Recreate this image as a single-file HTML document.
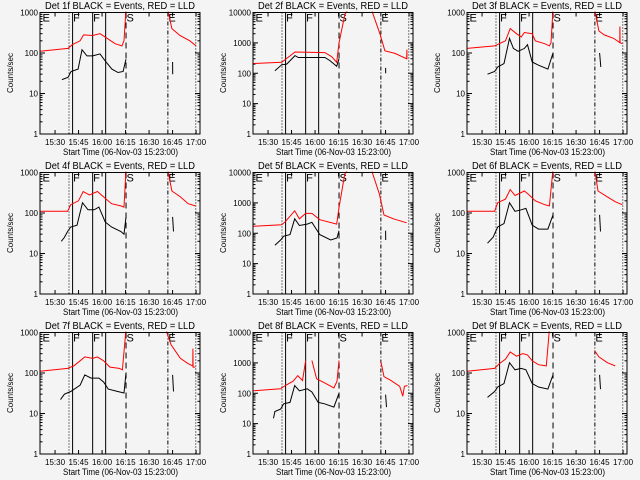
<!DOCTYPE html>
<html><head><meta charset="utf-8"><style>
html,body{margin:0;padding:0;background:#f4f4f4;}
svg{display:block;font-family:"Liberation Sans",sans-serif;}
</style></head><body>
<svg id="chart" width="640" height="480" viewBox="0 0 640 480" xmlns="http://www.w3.org/2000/svg">
<rect x="0" y="0" width="640" height="480" fill="#f4f4f4"/>
</svg>
<script>
// time in minutes after 15:00
const panelNames = ["1f","2f","3f","4f","5f","6f","7f","8f","9f"];
const yDecades = [3,4,3,3,4,3,3,4,3];
const redTimes = [
 [20.4,38.3,41,46,48.2,54,58.7,62.5,68.3,72.7,74,75.3,null,102,104.6,109.7,116,120],
 [20.4,38.7,47.2,66.3,70.6,73.8,75.3,79.1,81,null,96.1,101.4,104.6,111,118.5,118.6,118.7],
 [20.4,38,41,45,48,52,55,57,62,64,70,73,74,75.3,null,102,104.6,108,114,117.9,118,118.1,119.5],
 [20.4,38,40,45,48,52,57,61,66,72,74,75.3,null,102,104.6,110,115,119.5],
 [20.4,38.7,41,47,50,54,58,63,73.8,75.3,79,81,null,96,101,104,110,118.5],
 [20.4,38,40,45,48,51,57,60,64,70,73,75.3,null,102,104,110,115,119.5],
 [20.4,38,42,46,49,54,57,61,65,71,73,75.3,null,101,104,110,115,117.9,118,118.1,119.5],
 [20.4,38,41,46,49,52,54,null,58,61,66,72,74,75.3,null,102,104,108,114,116,117,119],
 [20.4,38,41,45,48,52,56,59,62,66,71,73,75.3,null,102,104.6,110,115,119.5]
];
const redValues = [
 [110,130,160,200,280,270,300,240,170,150,200,1200,null,1100,400,270,200,150],
 [210,230,500,480,350,230,1000,9000,12000,null,12000,2000,550,450,300,600,300],
 [130,150,170,200,400,300,250,320,300,200,170,150,180,1200,null,1100,350,280,230,180,450,180,170],
 [110,110,160,200,340,280,340,250,170,150,140,1200,null,1100,350,250,170,150],
 [170,190,240,550,300,450,450,280,200,700,9000,12000,null,12000,2000,400,300,220],
 [110,110,180,220,380,270,350,280,200,160,150,1200,null,1100,350,250,190,160],
 [110,130,150,200,250,230,250,200,140,130,120,1200,null,1100,500,230,170,150,400,140,140],
 [120,140,180,250,380,260,1200,null,1200,300,220,150,250,1200,null,1100,350,270,170,80,170,180],
 [110,130,170,220,330,260,300,280,200,160,150,1200,null,1100,350,250,180,150]
];
const blackTimes = [
 [34.4,38.3,40.2,44.7,47.2,50.4,54,58.7,62.5,66.3,70.2,73.4,75.3,null,105,105.1],
 [34.4,38.7,41.9,47.2,49.3,66.3,69.5,73.8,75.3,null,105,105.1],
 [33.5,38,40,44,47.5,50,53,57,59,62,66,72,75.3,null,105,105.8],
 [34,36,38,40,44,47.5,51,55,58,62,66,72,74,75.3,null,105,105.6],
 [34.4,38,40,44,47,50,55,58,63,70,74,75.3,null,105,105.1],
 [33.5,37,40,44,47.5,51,55,58,62,66,72,75.3,null,105,105.6],
 [33.5,36,40,46,49,53,58,61,64,70,74,75.3,null,105,105.6],
 [33.5,34.4,38,40,44,47,50,55,58,62,66,72,75.3,null,105,105.6],
 [33.5,38,40,44,47.5,51,55,58,62,66,72,75.3,null,105,105.6]
];
const blackValues = [
 [22,25,35,40,120,85,85,95,60,40,33,35,70,null,60,30],
 [120,190,200,380,330,330,260,170,300,null,150,100],
 [30,35,45,55,230,130,110,130,160,60,50,40,100,null,100,45],
 [20,25,35,45,50,180,120,120,140,60,45,35,30,80,null,80,35],
 [40,60,80,90,300,180,200,230,90,60,70,120,null,120,60],
 [18,25,45,55,180,110,120,130,50,40,40,90,null,90,35],
 [22,30,35,50,90,75,75,60,40,35,32,100,null,90,35],
 [15,25,30,45,50,180,120,140,110,50,45,35,100,null,90,35],
 [25,35,45,55,180,120,130,120,55,45,40,90,null,90,40]
];
const xTickTimes = [30,45,60,75,90,105,120];
const xTickLabels = ["15:30","15:45","16:00","16:15","16:30","16:45","17:00"];
const markerTimes = [38.9,41.2,54,62.3,75.3,102,119.8];
const markerStyles = ["1,2","","","","6,4","4,2,1,2","1,2"];
const markerLetters = ["E","F","F","S","E"];
const letterTimes = [22,41.5,54.3,75.6,102.3];

const svg = document.getElementById('chart');
const NS = "http://www.w3.org/2000/svg";
function mk(tag, attrs, parent){const e=document.createElementNS(NS,tag);for(const k in attrs)e.setAttribute(k,attrs[k]);(parent||svg).appendChild(e);return e;}
const colX=[0,213,427], rowY=[0,160,320];
const BL=40, BR=200, BT=12.5, BB=134, T0=20.4, PXM=1.567;

panelNames.forEach((nm,i)=>{
  const ox=colX[i%3], oy=rowY[Math.floor(i/3)];
  const dec=yDecades[i];
  const xs=t=>ox+BL+(t-T0)*PXM;
  const ys=v=>oy+BB-Math.log10(v)*(BB-BT)/dec;
  const g=mk('g',{});
  
  
  const cp=mk('clipPath',{id:'c'+i},g);
  mk('rect',{x:ox+BL,y:oy+BT-1,width:BR-BL,height:BB-BT+1},cp);
  const ti=mk('text',{x:ox+45,y:oy+9,'font-size':'10','text-anchor':'start',textLength:'150',lengthAdjust:'spacingAndGlyphs',fill:'#000'},g);
  ti.textContent='Det '+nm+' BLACK = Events, RED = LLD';
  
  
  for(let d=0;d<=dec;d++){
    const v=Math.pow(10,d), y=ys(v);
    const tl=mk('text',{x:ox+BL-2,y:y+3,'font-size':'8','text-anchor':'end',fill:'#000'},g);
    tl.textContent=String(v);
    
    
    mk('line',{x1:ox+BL,x2:ox+BL+5,y1:y,y2:y,stroke:'#000','stroke-width':1},g);
    mk('line',{x1:ox+BR,x2:ox+BR-5,y1:y,y2:y,stroke:'#000','stroke-width':1},g);
    if(d<dec){for(let m=2;m<10;m++){const ym=ys(v*m);
      mk('line',{x1:ox+BL,x2:ox+BL+2.5,y1:ym,y2:ym,stroke:'#000','stroke-width':1},g);
      mk('line',{x1:ox+BR,x2:ox+BR-2.5,y1:ym,y2:ym,stroke:'#000','stroke-width':1},g);}}
  }
  const yt=mk('text',{x:0,y:0,'font-size':'8','text-anchor':'middle',fill:'#000',transform:`translate(${ox+13},${oy+73}) rotate(-90)`},g);
  yt.textContent='Counts/sec';
  
  
  xTickTimes.forEach((t,k)=>{
    const x=xs(t);
    mk('line',{x1:x,x2:x,y1:oy+BB,y2:oy+BB-4,stroke:'#000'},g);
    mk('line',{x1:x,x2:x,y1:oy+BT,y2:oy+BT+4,stroke:'#000'},g);
    const xl=mk('text',{x:x,y:oy+145,'font-size':'8','text-anchor':'middle',fill:'#000'},g);
    xl.textContent=xTickLabels[k];
    
    
  });
  const xt=mk('text',{x:ox+63,y:oy+155,'font-size':'9.5','text-anchor':'start',textLength:'115',lengthAdjust:'spacingAndGlyphs',fill:'#000'},g);
  xt.textContent='Start Time (06-Nov-03 15:23:00)';
  
  
  markerTimes.forEach((t,k)=>{
    const x=xs(t);
    const ln=mk('line',{x1:x,x2:x,y1:oy+BT,y2:oy+BB,stroke:'#000','stroke-width':1},g);
    if(markerStyles[k])ln.setAttribute('stroke-dasharray',markerStyles[k]);
    
    
  });
  markerLetters.forEach((L,k)=>{
    const tx=mk('text',{x:xs(letterTimes[k]),y:oy+BT+9,'font-size':'11',fill:'#000'},g);
    tx.textContent=L;
    
    
  });
  function path(ts,vs){let d='',pen=false;ts.forEach((t,k)=>{if(t===null||vs[k]===null){pen=false;return;}d+=(pen?'L':'M')+xs(t).toFixed(1)+','+ys(vs[k]).toFixed(1);pen=true;});return d;}
  const rp=mk('path',{d:path(redTimes[i],redValues[i]),fill:'none',stroke:'#ff0000','stroke-width':1,'clip-path':`url(#c${i})`},g);
  
  
  const bp=mk('path',{d:path(blackTimes[i],blackValues[i]),fill:'none',stroke:'#000','stroke-width':1,'clip-path':`url(#c${i})`},g);
  
  
  const bx=mk('rect',{x:ox+BL,y:oy+BT,width:BR-BL,height:BB-BT,fill:'none',stroke:'#000','stroke-width':1},g);
  
  
});
</script>
</body></html>
